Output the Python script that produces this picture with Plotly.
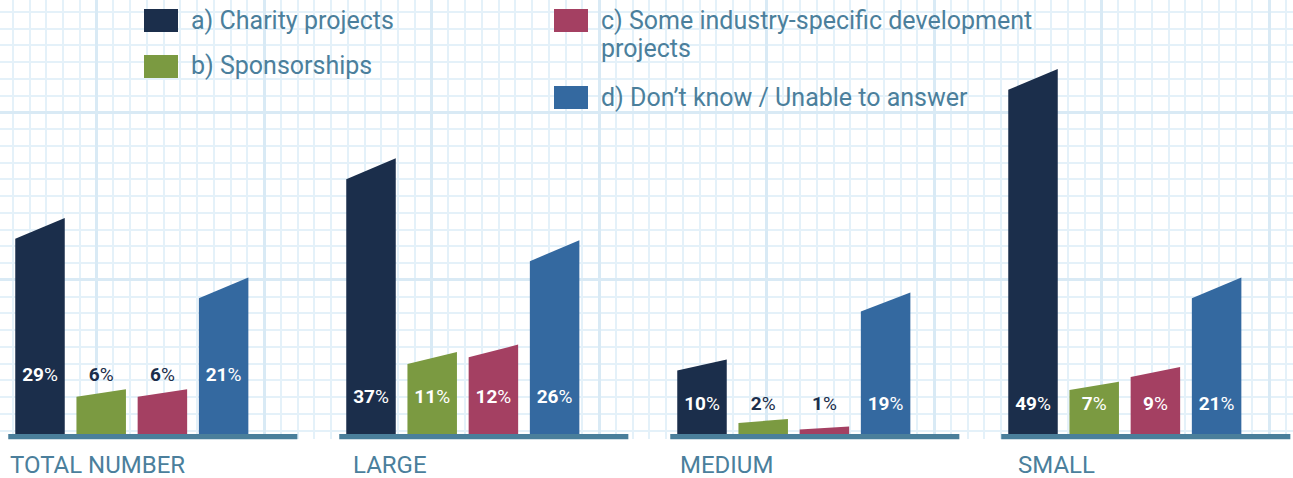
import plotly.graph_objects as go

# ---- data -------------------------------------------------------------
groups = ["TOTAL NUMBER", "LARGE", "MEDIUM", "SMALL"]
series_names = [
    "a) Charity projects",
    "b) Sponsorships",
    "c) Some industry-specific development projects",
    "d) Don’t know / Unable to answer",
]
charity = [29, 37, 10, 49]
sponsorships = [6, 11, 2, 7]
industry = [6, 12, 1, 9]
dont_know = [21, 26, 19, 21]
series_values = [charity, sponsorships, industry, dont_know]

# ---- styling -----------------------------------------------------------
W, H = 1293, 478
colors = ["#1b2e4b", "#7b9a41", "#a44062", "#3469a0"]
text_blue = "#4b7f9c"
base_blue = "#4a7f9b"
grid_minor = "#e4f1f9"
grid_major = "#d9eaf5"
FONT = "Roboto"

PX_PER_GROUP = 331.0          # horizontal distance between groups (px)
GROUP0_CENTER_PX = 131.8      # centre of first group (px)
PX_PER_PCT = 7.45             # vertical scale (px per percentage point)
BASE_PX = 434.0               # y pixel of value 0
BAR_STEP = 61.2 / PX_PER_GROUP
BAR_W = 49.5 / PX_PER_GROUP
GRID_BOTTOM_PX = 439.0

# height (in %) at which the value labels of each group sit
label_level = [7.8, 4.8, 3.9, 3.9]
# label indent of the category names relative to the first bar (px)
cat_indent = [-7, 5, 1, 8]


def tilt(v):
    """Drop of the left top corner of a bar, in percentage points."""
    return min(2.8, 0.27 + 0.12 * v)


x_min = -GROUP0_CENTER_PX / PX_PER_GROUP
x_max = (W - GROUP0_CENTER_PX) / PX_PER_GROUP
y_min = -(H - BASE_PX) / PX_PER_PCT
y_max = BASE_PX / PX_PER_PCT

fig = go.Figure()

# empty trace so the graph-paper subplot gets drawn
fig.add_trace(go.Scatter(x=[None], y=[None], xaxis="x", yaxis="y",
                         mode="markers", hoverinfo="skip", showlegend=False))

# ---- slanted bars ------------------------------------------------------
lab_x, lab_y, lab_t, lab_c = [], [], [], []
for j, vals in enumerate(series_values):
    for i, v in enumerate(vals):
        cx = i + (j - 1.5) * BAR_STEP
        xl, xr = cx - BAR_W / 2, cx + BAR_W / 2
        fig.add_trace(go.Scatter(
            x=[xl, xl, xr, xr, xl],
            y=[0, v - tilt(v), v, 0, 0],
            mode="lines", fill="toself",
            fillcolor=colors[j], line=dict(width=0, color=colors[j]),
            xaxis="x2", yaxis="y2", hoverinfo="skip", showlegend=False,
        ))
        lab_x.append(cx)
        lab_y.append(label_level[i])
        lab_t.append(f"<b>{v}</b>%")
        inside = label_level[i] + 1.2 < v - tilt(v)
        lab_c.append("white" if inside else colors[0])

fig.add_trace(go.Scatter(
    x=lab_x, y=lab_y, text=lab_t, mode="text",
    textfont=dict(family=FONT, size=19, color=lab_c),
    xaxis="x2", yaxis="y2", hoverinfo="skip", showlegend=False,
))

shapes = []
annotations = []

# ---- baselines and category labels -------------------------------------
first_left = -1.5 * BAR_STEP - BAR_W / 2
for i, g in enumerate(groups):
    shapes.append(dict(
        type="rect", xref="x2", yref="y2",
        x0=i + first_left - 7 / PX_PER_GROUP,
        x1=i + 1.5 * BAR_STEP + BAR_W / 2 + 49 / PX_PER_GROUP,
        y0=-5.3 / PX_PER_PCT, y1=0,
        fillcolor=base_blue, line=dict(width=0), layer="above",
    ))
    annotations.append(dict(
        xref="x2", yref="y2", x=i + first_left + cat_indent[i] / PX_PER_GROUP,
        y=-31 / PX_PER_PCT, text=g, showarrow=False,
        xanchor="left", yanchor="middle",
        font=dict(family=FONT, size=24, color=text_blue),
    ))

# ---- legend --------------------------------------------------------------
legend_items = [
    (144, 9, [series_names[0]]),
    (144, 55, [series_names[1]]),
    (554, 9, ["c) Some industry-specific development", "projects"]),
    (554, 86, [series_names[3]]),
]
for k, (bx, by, lines) in enumerate(legend_items):
    shapes.append(dict(
        type="rect", xref="paper", yref="paper",
        x0=bx / W, x1=(bx + 34) / W, y0=1 - (by + 23) / H, y1=1 - by / H,
        fillcolor=colors[k], line=dict(width=0),
    ))
    for n, line in enumerate(lines):
        annotations.append(dict(
            xref="paper", yref="paper", x=(bx + 45) / W,
            y=1 - (by + 11 + 28 * n) / H, text=line, showarrow=False,
            xanchor="left", yanchor="middle",
            font=dict(family=FONT, size=25, color=text_blue),
        ))

fig.update_layout(
    width=W, height=H,
    margin=dict(l=0, r=0, t=0, b=0),
    paper_bgcolor="white", plot_bgcolor="rgba(0,0,0,0)",
    showlegend=False,
    shapes=shapes, annotations=annotations,
    # graph-paper background
    xaxis=dict(
        domain=[0, 1], range=[0, W], fixedrange=True,
        showticklabels=False, ticks="", zeroline=False, showline=False,
        showgrid=True, gridcolor=grid_major, gridwidth=3,
        tick0=96.7, dtick=167.5,
        minor=dict(showgrid=True, tick0=96.7, dtick=16.75,
                   gridcolor=grid_minor, gridwidth=2),
    ),
    yaxis=dict(
        domain=[1 - GRID_BOTTOM_PX / H, 1], range=[GRID_BOTTOM_PX, 0],
        fixedrange=True,
        showticklabels=False, ticks="", zeroline=False, showline=False,
        showgrid=True, gridcolor=grid_major, gridwidth=3,
        tick0=112.3, dtick=167.5,
        minor=dict(showgrid=True, tick0=112.3, dtick=16.75,
                   gridcolor=grid_minor, gridwidth=2),
    ),
    # data axes
    xaxis2=dict(domain=[0, 1], range=[x_min, x_max], anchor="y2",
                visible=False, fixedrange=True),
    yaxis2=dict(domain=[0, 1], range=[y_min, y_max], anchor="x2",
                visible=False, fixedrange=True),
)

fig.write_html("out.html")
